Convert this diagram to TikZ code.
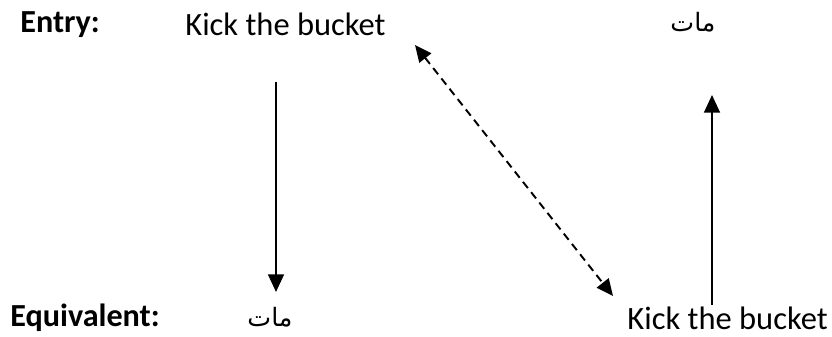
\documentclass[tikz,border=0pt]{standalone}
\usepackage{fontspec}
\setmainfont{Carlito}
\newfontfamily\arabicfont[Script=Arabic]{DejaVu Sans}
\TeXXeTstate=1
\usetikzlibrary{arrows.meta}

\tikzset{
  lbl/.style={font=\fontsize{18.3}{22}\selectfont\bfseries, inner sep=0pt},
  phrase/.style={font=\fontsize{18.5}{22}\selectfont, inner sep=0pt},
  arab/.style={font=\fontsize{14.4}{17}\arabicfont, inner sep=0pt},
  link/.style={line width=1.1pt, -{Triangle[length=10pt,width=9pt]}}
}

\begin{document}
\begin{tikzpicture}[x=0.02cm, y=-0.02cm]
            \useasboundingbox (0,0) rectangle (832,337);

            % Entry row
            \node[lbl, anchor=west] (entry) at (20,25) {Entry:};
            \node[phrase, anchor=west] (kickTop) at (185,24) {Kick the bucket};
            \node[arab] (matTop) at (693,22) {\beginR مات\endR};

            % Equivalent row
            \node[lbl, anchor=west] (equiv) at (10,318) {Equivalent:};
            \node[arab] (matBot) at (270,317) {\beginR مات\endR};
            \node[phrase, anchor=east] (kickBot) at (828,318) {Kick the bucket};

            % arrow ends
            \coordinate (downA) at (276,82);
            \coordinate (downB) at (276,292);
            \coordinate (dashA) at (415,45);
            \coordinate (dashB) at (613,296);
            \coordinate (upA) at (712,305);
            \coordinate (upB) at (712,95);

            % Links
            \draw[link] (downA) -- (downB);
            \draw[link, dash pattern=on 4.5pt off 3pt, {Triangle[length=9.5pt,width=8.5pt]}-{Triangle[length=9.5pt,width=8.5pt]}] (dashA) -- (dashB);
            \draw[link] (upA) -- (upB);
\end{tikzpicture}
\end{document}
